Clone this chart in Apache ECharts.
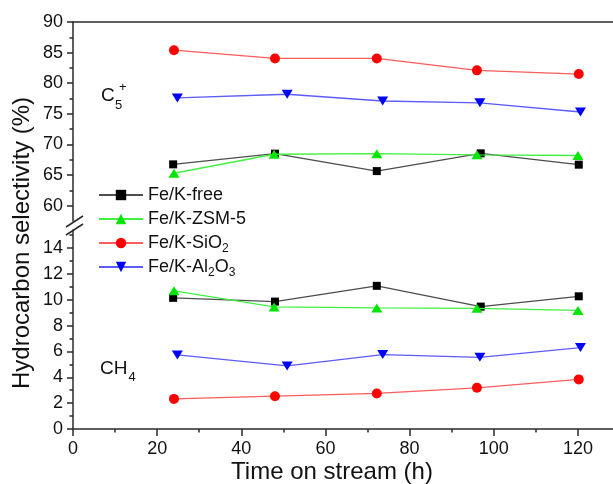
<!DOCTYPE html>
<html>
<head>
<meta charset="utf-8">
<script src="https://cdn.jsdelivr.net/npm/echarts@6/dist/echarts.min.js"></script>
<style>
  html, body { margin: 0; padding: 0; background: #fff; }
  #chart { width: 613px; height: 484px; }
</style>
</head>
<body>
<div id="chart"></div>
<script>
// catalysts (legend order)
const seriesNames = ['Fe/K-free', 'Fe/K-ZSM-5', 'Fe/K-SiO2', 'Fe/K-Al2O3'];

// time on stream (h) - points are slightly shifted per catalyst in the original
const timeFree = [23.8, 48, 72.2, 96.9, 120.2];
const timeZsm = [24, 47.8, 72.2, 96, 120];
const timeSio = [24, 48, 72.2, 96, 120.2];
const timeAlo = [24.8, 50.9, 73.6, 96.7, 120.6];

// C5+ selectivity (%)
const c5Free = [66.75, 68.5, 65.65, 68.55, 66.7];
const c5Zsm = [65.3, 68.4, 68.5, 68.3, 68.2];
const c5Sio = [85.4, 84.05, 84.05, 82.1, 81.5];
const c5Alo = [77.6, 78.2, 77.1, 76.8, 75.3];

// CH4 selectivity (%)
const ch4Free = [10.15, 9.86, 11.08, 9.47, 10.27];
const ch4Zsm = [10.69, 9.45, 9.37, 9.34, 9.18];
const ch4Sio = [2.33, 2.54, 2.75, 3.19, 3.84];
const ch4Alo = [5.73, 4.88, 5.76, 5.55, 6.3];

// tick labels
const xTicks = [0, 20, 40, 60, 80, 100, 120];
const upperTicks = [60, 65, 70, 75, 80, 85, 90];
const lowerTicks = [0, 2, 4, 6, 8, 10, 12, 14];

const FONT = '"Liberation Sans", Arial, sans-serif';
const AXIS = { color: '#2a2a2a', width: 1.5 };

// look of each catalyst
const looks = [
  { symbol: 'rect', size: 8, mark: '#000000', line: '#4d4d4d' },
  { symbol: 'triangle', size: [11, 9], mark: '#00e600', line: '#40f040' },
  { symbol: 'circle', size: 10, mark: '#ff0000', line: '#ff5c5c' },
  { symbol: 'path://M0,0L10,0L5,8Z', size: [11, 9], mark: '#0000ff', line: '#5c5cff' }
];
const times = [timeFree, timeZsm, timeSio, timeAlo];
const c5 = [c5Free, c5Zsm, c5Sio, c5Alo];
const ch4 = [ch4Free, ch4Zsm, ch4Sio, ch4Alo];

const legendLabels = {
  'Fe/K-free': 'Fe/K-free',
  'Fe/K-ZSM-5': 'Fe/K-ZSM-5',
  'Fe/K-SiO2': 'Fe/K-SiO{s|2}',
  'Fe/K-Al2O3': 'Fe/K-Al{s|2}O{s|3}'
};

const makeSeries = (i, values, gridIdx) => ({
  name: seriesNames[i],
  type: 'line',
  xAxisIndex: gridIdx,
  yAxisIndex: gridIdx,
  data: values.map((v, k) => [times[i][k], v]),
  symbol: looks[i].symbol,
  symbolSize: looks[i].size,
  itemStyle: { color: looks[i].mark },
  lineStyle: { color: looks[i].line, width: 1.3 },
  z: 3 + i
});

const series = [];
for (let i = 0; i < 4; i++) series.push(makeSeries(i, c5[i], 0));
for (let i = 0; i < 4; i++) series.push(makeSeries(i, ch4[i], 1));

const labelStyle = { fontSize: 18, color: '#111', fontFamily: FONT };

const myChart = echarts.init(document.getElementById('chart'));
const option = {
  animation: false,
  backgroundColor: '#fff',
  grid: [
    { left: 73, right: -7, top: 22, bottom: 263, outerBoundsMode: 'none' },
    { left: 73, right: -7, top: 230, bottom: 55, outerBoundsMode: 'none' }
  ],
  xAxis: [
    {
      gridIndex: 0, type: 'value', min: 0, max: 130, position: 'top',
      axisLine: { show: true, onZero: false, lineStyle: AXIS },
      axisTick: { show: false }, axisLabel: { show: false }, splitLine: { show: false }
    },
    {
      gridIndex: 1, type: 'value', min: 0, max: 130, interval: 20,
      axisLine: { show: true, onZero: false, lineStyle: AXIS },
      axisTick: { show: true, inside: false, length: 7, customValues: xTicks, lineStyle: AXIS },
      minorTick: { show: true, splitNumber: 2, length: 3.5, lineStyle: AXIS },
      axisLabel: Object.assign({ margin: 11, customValues: xTicks }, labelStyle),
      splitLine: { show: false }
    }
  ],
  yAxis: [
    {
      gridIndex: 0, type: 'value', min: 57.5, max: 90, minInterval: 5, maxInterval: 5,
      axisLine: { show: true, onZero: false, lineStyle: AXIS },
      axisTick: { show: true, inside: false, length: 6, customValues: upperTicks, lineStyle: AXIS },
      minorTick: { show: true, splitNumber: 2, length: 3.5, lineStyle: AXIS },
      axisLabel: Object.assign({ margin: 10, customValues: upperTicks }, labelStyle),
      splitLine: { show: false }
    },
    {
      gridIndex: 1, type: 'value', min: 0, max: 15.4, interval: 2,
      axisLine: { show: true, onZero: false, lineStyle: AXIS },
      axisTick: { show: true, inside: false, length: 6, customValues: lowerTicks, lineStyle: AXIS },
      minorTick: { show: true, splitNumber: 2, length: 3.5, lineStyle: AXIS },
      axisLabel: Object.assign({ margin: 10, customValues: lowerTicks }, labelStyle),
      splitLine: { show: false }
    }
  ],
  legend: {
    data: seriesNames,
    orient: 'vertical',
    left: 98,
    top: 183,
    padding: 0,
    itemWidth: 44,
    itemHeight: 13,
    itemGap: 0,
    selectedMode: false,
    formatter: name => legendLabels[name],
    textStyle: {
      fontSize: 18, color: '#111', fontFamily: FONT, lineHeight: 24,
      rich: { s: { fontSize: 12, lineHeight: 12, verticalAlign: 'bottom', fontFamily: FONT, color: '#111' } }
    }
  },
  graphic: [
    // axis titles
    { type: 'text', x: 22, y: 243, rotation: Math.PI / 2,
      style: { text: 'Hydrocarbon selectivity (%)', fontSize: 24, fontFamily: FONT, fill: '#111', align: 'center', verticalAlign: 'middle' } },
    { type: 'text', x: 332, y: 472,
      style: { text: 'Time on stream (h)', fontSize: 24, fontFamily: FONT, fill: '#111', align: 'center', verticalAlign: 'middle' } },
    // product labels
    { type: 'text', x: 101, y: 96, style: { text: 'C', fontSize: 19, fontFamily: FONT, fill: '#111', verticalAlign: 'middle' } },
    { type: 'text', x: 115, y: 105, style: { text: '5', fontSize: 13, fontFamily: FONT, fill: '#111', verticalAlign: 'middle' } },
    { type: 'text', x: 119, y: 87, style: { text: '+', fontSize: 13, fontFamily: FONT, fill: '#111', verticalAlign: 'middle' } },
    { type: 'text', x: 100, y: 369, style: { text: 'CH', fontSize: 19, fontFamily: FONT, fill: '#111', verticalAlign: 'middle' } },
    { type: 'text', x: 128.5, y: 377, style: { text: '4', fontSize: 13, fontFamily: FONT, fill: '#111', verticalAlign: 'middle' } },
    // axis break marks
    { type: 'line', shape: { x1: 66, y1: 227, x2: 83, y2: 216 }, style: { stroke: '#2a2a2a', lineWidth: 1.5 } },
    { type: 'line', shape: { x1: 66, y1: 235, x2: 83, y2: 224 }, style: { stroke: '#2a2a2a', lineWidth: 1.5 } }
  ],
  series: series
};

option && myChart.setOption(option);

window.addEventListener('resize', () => {
  myChart.resize();
});
</script>
</body>
</html>
